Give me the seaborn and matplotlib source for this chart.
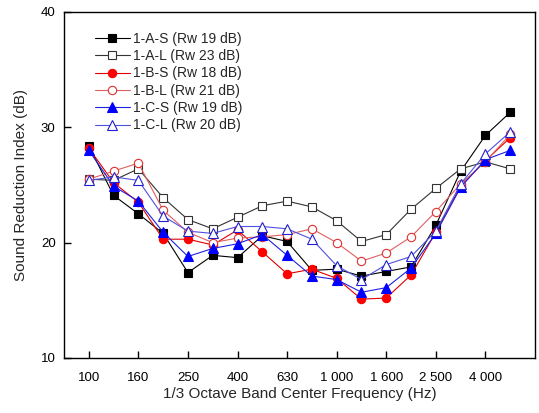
import matplotlib
matplotlib.use("Agg")
import matplotlib.pyplot as plt
import seaborn as sns
import pandas as pd

bands = ["100", "125", "160", "200", "250", "315", "400", "500", "630", "800",
         "1 000", "1 250", "1 600", "2 000", "2 500", "3 150", "4 000", "5 000"]

a_s = [28.4, 24.1, 22.5, 20.8, 17.4, 18.9, 18.7, 20.6, 20.1, 17.6, 17.7, 17.1, 17.5, 17.9, 21.5, 26.2, 29.3, 31.3]
a_l = [25.5, 25.4, 26.4, 23.9, 22.0, 21.2, 22.2, 23.2, 23.6, 23.1, 21.9, 20.1, 20.7, 22.9, 24.7, 26.4, 27.0, 26.4]
b_s = [28.2, 25.2, 23.5, 20.3, 20.3, 19.8, 21.1, 19.2, 17.3, 17.7, 16.9, 15.1, 15.2, 17.2, 20.9, 24.9, 27.1, 29.1]
b_l = [25.5, 26.2, 26.9, 22.8, 20.9, 20.0, 20.4, 20.5, 20.7, 21.2, 20.0, 18.4, 19.1, 20.5, 22.7, 25.1, 27.0, 29.4]
c_s = [28.0, 24.9, 23.6, 20.9, 18.8, 19.5, 19.9, 20.7, 18.9, 17.1, 16.8, 15.7, 16.1, 17.8, 20.8, 24.8, 27.2, 28.0]
c_l = [25.4, 25.7, 25.4, 22.3, 21.0, 20.8, 21.4, 21.4, 21.2, 20.3, 18.0, 16.8, 18.1, 18.8, 21.0, 25.1, 27.7, 29.6]

labels = ["1-A-S (Rw 19 dB)", "1-A-L (Rw 23 dB)", "1-B-S (Rw 18 dB)",
          "1-B-L (Rw 21 dB)", "1-C-S (Rw 19 dB)", "1-C-L (Rw 20 dB)"]
series = [a_s, a_l, b_s, b_l, c_s, c_l]
tick_labels = ["100", "160", "250", "400", "630", "1 000", "1 600", "2 500", "4 000"]

styles = [
    dict(marker="s", mfc="black", mec="black", lc="#000000"),
    dict(marker="s", mfc="white", mec="#333333", lc="#333333"),
    dict(marker="o", mfc="red", mec="red", lc="#e00000"),
    dict(marker="o", mfc="white", mec="#e03030", lc="#e06060"),
    dict(marker="^", mfc="blue", mec="blue", lc="#2020e0"),
    dict(marker="^", mfc="white", mec="#2020d0", lc="#5050e0"),
]

rows = []
for lab, vals in zip(labels, series):
    for i, v in enumerate(vals):
        rows.append({"series": lab, "idx": i, "band": bands[i], "value": v})
df = pd.DataFrame(rows)

sns.set_theme(style="white")
plt.rcParams["font.family"] = ["Liberation Sans", "DejaVu Sans"]

fig = plt.figure(figsize=(5.39, 4.13), dpi=100)
ax = fig.add_axes([0.1187, 0.1332, 0.8739, 0.8378])

for lab, st in zip(labels, styles):
    sub = df[df["series"] == lab]
    sns.lineplot(data=sub, x="idx", y="value", ax=ax, color=st["lc"],
                 marker=st["marker"], markerfacecolor=st["mfc"],
                 markeredgecolor=st["mec"], markeredgewidth=0.8,
                 markersize=6 if st["marker"] != "^" else 7,
                 linewidth=0.8, label=lab)

ax.set_xlim(-1, 18)
ax.set_ylim(10, 40)
ax.set_xticks(list(range(0, 17, 2)))
ax.set_xticklabels(tick_labels)
ax.set_yticks([10, 20, 30, 40])
ax.tick_params(axis="both", direction="in", length=5, width=1, labelsize=9.5,
               colors="black")
ax.tick_params(axis="x", bottom=True, pad=10)
ax.tick_params(axis="y", left=True, pad=6)
for sp in ax.spines.values():
    sp.set_visible(True)
    sp.set_color("black")
    sp.set_linewidth(1.0)

ax.set_xlabel("1/3 Octave Band Center Frequency (Hz)", fontsize=11, labelpad=2)
ax.set_ylabel("Sound Reduction Index (dB)", fontsize=11, labelpad=9)

leg = ax.legend(loc="upper left", bbox_to_anchor=(0.066, 0.943), frameon=False,
                fontsize=10, handlelength=2.5, labelspacing=0.24, borderaxespad=0,
                borderpad=0, handletextpad=0.2)

fig.savefig("out.png", dpi=100)
